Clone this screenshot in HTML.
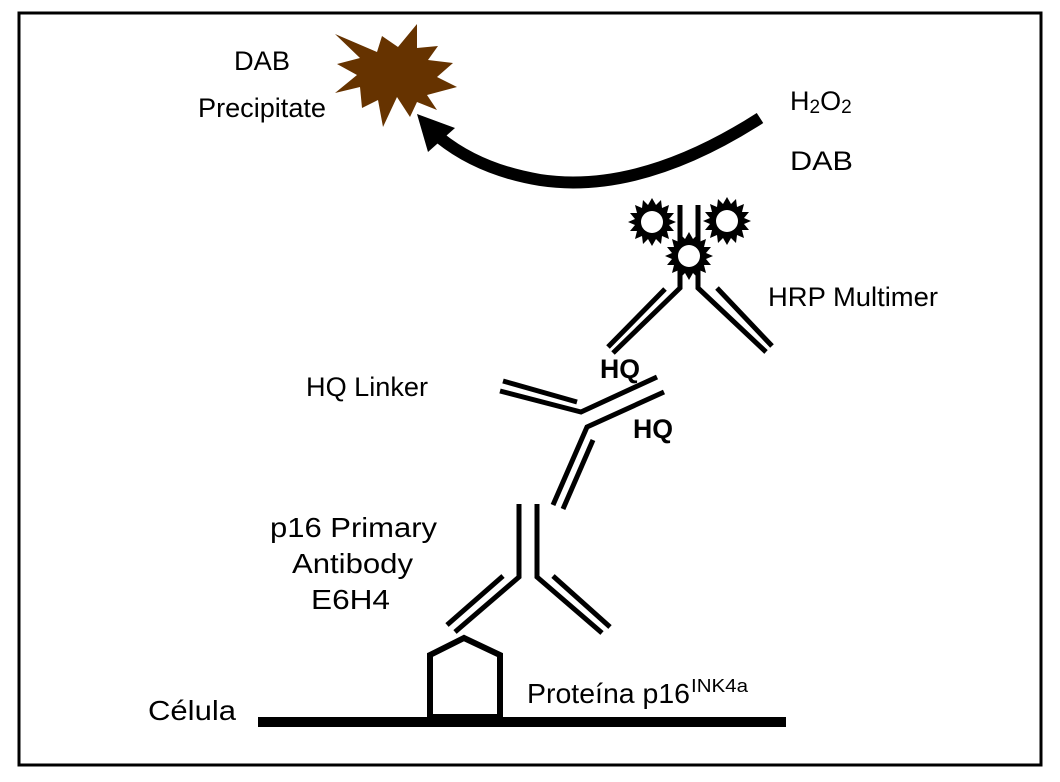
<!DOCTYPE html>
<html><head><meta charset="utf-8"><style>
html,body{margin:0;padding:0;background:#fff;}
svg text{font-family:"Liberation Sans",Arial,sans-serif;fill:#000;}
</style></head><body>
<svg width="1060" height="777" viewBox="0 0 1060 777" xmlns="http://www.w3.org/2000/svg">
<defs>
<polygon id="sp" fill="#000" points="0,-24 4,-17 9,-22 10,-14 17,-17 15,-9 22,-9 17,-3 24,0 17,3 22,9 15,9 17,17 10,14 9,22 4,17 0,24 -4,17 -9,22 -10,14 -17,17 -15,9 -22,9 -17,3 -24,0 -17,-3 -22,-9 -15,-9 -17,-17 -10,-14 -9,-22 -4,-17"/>
</defs>
<rect x="19" y="13" width="1022" height="752" fill="#fff" stroke="#000" stroke-width="3"/>
<polygon fill="#663300" points="335,34 377,52 382,36 398,47 417,24 417,48 438,46 428,60 453,63 437,77 457,87 427,95 437,110 417,102 410,117 397,97 383,127 378,100 362,108 360,87 335,93 357,75 337,64 360,58"/>
<path d="M760,118 Q640,195 540,180 Q480,170 440,138" fill="none" stroke="#000" stroke-width="12"/>
<polygon points="417,114 428,152 455,128" fill="#000"/>
<g fill="none" stroke="#000" stroke-width="5" stroke-linecap="butt" stroke-linejoin="miter">
<polyline points="680,205 680,288 613,353"/>
<line x1="665" y1="289" x2="608" y2="347"/>
<polyline points="698,205 698,288 766,352"/>
<line x1="717" y1="288" x2="772" y2="346"/>
<line x1="503" y1="381" x2="577" y2="402"/>
<polyline points="500,391 581,412 657,377"/>
<polyline points="664,392 587,427 553,505"/>
<line x1="593" y1="440" x2="563" y2="509"/>
<polyline points="519,504 519,577 455,632"/>
<line x1="503" y1="576" x2="447" y2="625"/>
<polyline points="537,504 537,577 602,633"/>
<line x1="553" y1="576" x2="610" y2="627"/>
<polygon points="430,655 464,638 500,655 500,717 430,717" stroke-width="6"/>
</g>
<line x1="258" y1="722" x2="786" y2="722" stroke="#000" stroke-width="10"/>
<use href="#sp" x="652" y="222"/><circle cx="652" cy="222" r="11" fill="#fff"/>
<use href="#sp" x="727" y="221"/><circle cx="727" cy="221" r="11" fill="#fff"/>
<use href="#sp" x="689" y="256"/><circle cx="689" cy="256" r="11" fill="#fff"/>
<text x="234" y="70" font-size="27" textLength="56" lengthAdjust="spacingAndGlyphs">DAB</text>
<text x="198" y="117" font-size="27" textLength="128" lengthAdjust="spacingAndGlyphs">Precipitate</text>
<text x="790" y="110" font-size="27">H<tspan font-size="19" dy="3">2</tspan><tspan dy="-3">O</tspan><tspan font-size="19" dy="3">2</tspan></text>
<text x="790" y="170" font-size="27" textLength="63" lengthAdjust="spacingAndGlyphs">DAB</text>
<text x="768" y="306" font-size="27" textLength="170" lengthAdjust="spacingAndGlyphs">HRP Multimer</text>
<text x="600" y="378" font-size="27" font-weight="bold" textLength="40" lengthAdjust="spacingAndGlyphs">HQ</text>
<text x="633" y="438" font-size="27" font-weight="bold" textLength="40" lengthAdjust="spacingAndGlyphs">HQ</text>
<text x="306" y="396" font-size="27" textLength="122" lengthAdjust="spacingAndGlyphs">HQ Linker</text>
<text x="270" y="537" font-size="28" textLength="167" lengthAdjust="spacingAndGlyphs">p16 Primary</text>
<text x="292" y="573" font-size="28" textLength="121" lengthAdjust="spacingAndGlyphs">Antibody</text>
<text x="311" y="609" font-size="28" textLength="79" lengthAdjust="spacingAndGlyphs">E6H4</text>
<text x="148" y="720" font-size="28" textLength="88" lengthAdjust="spacingAndGlyphs">Célula</text>
<text x="527" y="703" font-size="28" textLength="163" lengthAdjust="spacingAndGlyphs">Proteína p16</text>
<text x="691" y="692" font-size="18" textLength="57" lengthAdjust="spacingAndGlyphs">INK4a</text>
</svg>
</body></html>
